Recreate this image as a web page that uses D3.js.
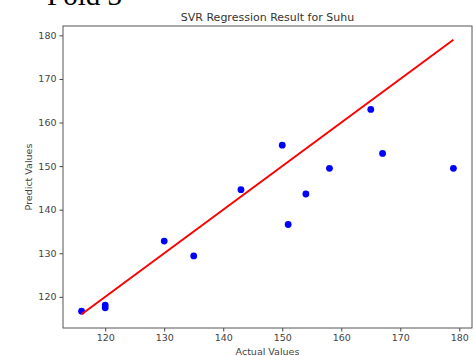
<!DOCTYPE html>
<html>
<head>
<meta charset="utf-8">
<script src="https://cdn.jsdelivr.net/npm/d3@7"></script>
<style>
  html, body { margin: 0; padding: 0; background: #fff; }
  svg { display: block; }
</style>
</head>
<body>
<svg id="chart" width="474" height="356"></svg>
<script>
// actual vs predicted values
const actual = [116, 120, 120, 130, 135, 143, 150, 151, 154, 158, 165, 167, 179];
const predicted = [116.7, 118.1, 117.5, 132.8, 129.4, 144.6, 154.8, 136.6, 143.6, 149.5, 163.0, 152.9, 149.5];
const xTicks = [120, 130, 140, 150, 160, 170, 180];
const yTicks = [120, 130, 140, 150, 160, 170, 180];

const W = 474, H = 356;
const margin = { top: 26, right: 2, bottom: 28, left: 63 };
const svg = d3.select("#chart");
const font = "DejaVu Sans, sans-serif";

const lo = d3.min(actual), hi = d3.max(actual);
const pad = (hi - lo) * 0.05;
const x = d3.scaleLinear().domain([lo - pad, hi + pad]).range([margin.left, W - margin.right]);
const yLo = Math.min(lo, d3.min(predicted)), yHi = Math.max(hi, d3.max(predicted));
const yPad = (yHi - yLo) * 0.05;
const y = d3.scaleLinear().domain([yLo - yPad, yHi + yPad]).range([H - margin.bottom, margin.top]);

// slide text partly cut off at top (as in the source screenshot)
svg.append("text").attr("x", 12).attr("y", 5).attr("font-family", "Liberation Serif, serif")
  .attr("font-size", 29).attr("fill", "#000").text("•");
svg.append("text").attr("x", 47).attr("y", 5).attr("font-family", "Liberation Serif, serif")
  .attr("font-size", 29).attr("fill", "#000").text("Fold 3");

// title
svg.append("text").attr("x", (margin.left + W - margin.right) / 2).attr("y", 21)
  .attr("text-anchor", "middle").attr("font-family", font).attr("font-size", 11)
  .attr("fill", "#333").text("SVR Regression Result for Suhu");

// axes
const xAxis = svg.append("g").attr("transform", `translate(0,${H - margin.bottom})`)
  .call(d3.axisBottom(x).tickValues(xTicks).tickSize(3.5).tickPadding(3));
const yAxis = svg.append("g").attr("transform", `translate(${margin.left},0)`)
  .call(d3.axisLeft(y).tickValues(yTicks).tickSize(3.5).tickPadding(3));
[xAxis, yAxis].forEach((g) => {
  g.select(".domain").remove();
  g.selectAll(".tick line").attr("stroke", "#444");
  g.selectAll(".tick text").attr("font-family", font).attr("font-size", 9.5).attr("fill", "#444");
});

// frame
svg.append("rect").attr("x", margin.left).attr("y", margin.top)
  .attr("width", W - margin.right - margin.left).attr("height", H - margin.bottom - margin.top)
  .attr("fill", "none").attr("stroke", "#555").attr("stroke-width", 1);

// axis labels
svg.append("text").attr("x", (margin.left + W - margin.right) / 2).attr("y", H - 1)
  .attr("text-anchor", "middle").attr("font-family", font).attr("font-size", 9.5)
  .attr("fill", "#444").text("Actual Values");
svg.append("text").attr("transform", `translate(32,${(margin.top + H - margin.bottom) / 2}) rotate(-90)`)
  .attr("text-anchor", "middle").attr("font-family", font).attr("font-size", 9.5)
  .attr("fill", "#444").text("Predict Values");

// points
svg.append("g").selectAll("circle").data(d3.range(actual.length)).join("circle")
  .attr("cx", (i) => x(actual[i])).attr("cy", (i) => y(predicted[i]))
  .attr("r", 3.4).attr("fill", "#0000ff");

// identity line
svg.append("line").attr("x1", x(lo)).attr("y1", y(lo)).attr("x2", x(hi)).attr("y2", y(hi))
  .attr("stroke", "#ff0000").attr("stroke-width", 2);
</script>
</body>
</html>
